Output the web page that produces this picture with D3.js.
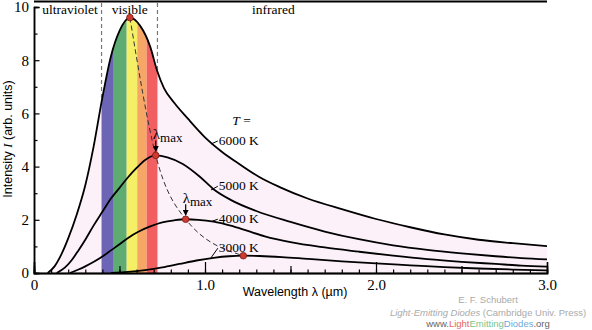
<!DOCTYPE html>
<html>
<head>
<meta charset="utf-8">
<script src="https://cdn.jsdelivr.net/npm/d3@7"></script>
<style>
  body { margin: 0; background: #fff; }
  svg { display: block; }
</style>
</head>
<body>
<div id="chart"></div>
<script>
var width = 592, height = 330;

// blackbody curves, wavelength in um, intensity in arb. units
var wl6000 = [0.08, 0.12, 0.16, 0.2, 0.25, 0.3, 0.35, 0.4, 0.45, 0.5, 0.561, 0.62, 0.68, 0.72, 0.76, 0.82, 0.9, 1.0, 1.1, 1.2, 1.32, 1.44, 1.6, 1.8, 2.0, 2.2, 2.4, 2.6, 2.8, 3.0];
var in6000 = [0, 0.25, 0.7, 1.3, 2.2, 3.3, 4.8, 6.6, 8.15, 9.1, 9.6, 9.3, 8.5, 7.6, 6.95, 6.4, 5.8, 5.1, 4.55, 4.1, 3.6, 3.22, 2.8, 2.4, 2.03, 1.72, 1.45, 1.25, 1.12, 1.01];
var wl5000 = [0.133, 0.18, 0.22, 0.26, 0.3, 0.35, 0.4, 0.45, 0.5, 0.55, 0.6, 0.65, 0.712, 0.78, 0.87, 0.97, 1.05, 1.15, 1.3, 1.5, 1.7, 1.9, 2.1, 2.3, 2.5, 2.7, 2.85, 3.0];
var in5000 = [0, 0.2, 0.48, 0.85, 1.25, 1.8, 2.3, 2.8, 3.2, 3.6, 3.95, 4.25, 4.42, 4.35, 4.1, 3.62, 3.15, 2.75, 2.33, 1.92, 1.56, 1.27, 1.04, 0.87, 0.74, 0.63, 0.56, 0.51];
var wl4000 = [0.21, 0.26, 0.3, 0.35, 0.4, 0.45, 0.5, 0.55, 0.61, 0.68, 0.75, 0.82, 0.887, 0.96, 1.05, 1.15, 1.25, 1.35, 1.5, 1.7, 1.9, 2.1, 2.3, 2.5, 2.7, 2.85, 3.0];
var in4000 = [0, 0.13, 0.25, 0.42, 0.62, 0.85, 1.08, 1.32, 1.55, 1.75, 1.9, 1.98, 2.02, 2.0, 1.93, 1.78, 1.58, 1.38, 1.16, 0.96, 0.8, 0.65, 0.52, 0.42, 0.34, 0.28, 0.24];
var wl3000 = [0.45, 0.55, 0.65, 0.75, 0.85, 0.95, 1.05, 1.14, 1.224, 1.32, 1.45, 1.6, 1.8, 2.0, 2.2, 2.4, 2.6, 2.8, 3.0];
var in3000 = [0, 0.04, 0.11, 0.21, 0.34, 0.47, 0.57, 0.63, 0.65, 0.64, 0.6, 0.53, 0.44, 0.36, 0.29, 0.22, 0.17, 0.13, 0.1];

var temps = ["6000 K", "5000 K", "4000 K", "3000 K"];
var labelI = [5.0, 3.3, 2.06, 0.97];     // where each T label sits
var leaderI = [4.85, 3.12, 1.93, 0.57];  // curve height at the leader

// visible band split into colours
var bandEdges = [0.395, 0.462, 0.542, 0.604, 0.659, 0.722];
var bandColors = ["#6c64b4", "#5fac72", "#f4ef66", "#f6a665", "#f25f60"];
var regions = ["ultraviolet", "visible", "infrared"];
var regionX = [0.21, 0.56, 1.4];

var xMajor = [0, 1, 2, 3];
var xMajorLabels = ["0", "1.0", "2.0", "3.0"];
var xHalf = [0.5, 1.5, 2.5];
var yMajor = [0, 2, 4, 6, 8, 10];
var yMinor = [1, 3, 5, 7, 9];

var serif = "'Liberation Serif', 'Times New Roman', serif";
var sans = "'Liberation Sans', Arial, sans-serif";

var series = [[wl6000, in6000], [wl5000, in5000], [wl4000, in4000], [wl3000, in3000]].map(function(s, i) {
  return { name: temps[i], pts: s[0].map(function(w, j) { return [w, s[1][j]]; }) };
});

var x = d3.scaleLinear().domain([0, 3]).range([34, 547]);
var y = d3.scaleLinear().domain([0, 10]).range([273, 7]);

var svg = d3.select("#chart").append("svg")
  .attr("width", width)
  .attr("height", height);

var line = d3.line()
  .x(function(d) { return x(d[0]); })
  .y(function(d) { return y(d[1]); })
  .curve(d3.curveMonotoneX);

var area = d3.area()
  .x(function(d) { return x(d[0]); })
  .y0(y(0))
  .y1(function(d) { return y(d[1]); })
  .curve(d3.curveMonotoneX);

// region dividers, hidden below the curve by the fill
svg.selectAll(".divider")
  .data([bandEdges[0], bandEdges[bandEdges.length - 1]])
  .enter().append("line")
  .attr("x1", function(d) { return x(d); })
  .attr("x2", function(d) { return x(d); })
  .attr("y1", 3).attr("y2", y(0))
  .attr("stroke", "#777")
  .attr("stroke-width", 1.2)
  .attr("stroke-dasharray", "4,3");

svg.append("clipPath").attr("id", "under6000")
  .append("path").attr("d", area(series[0].pts));

svg.append("path")
  .attr("d", area(series[0].pts))
  .attr("fill", "#fcf0f9");

svg.append("g").attr("clip-path", "url(#under6000)")
  .selectAll("rect")
  .data(bandColors)
  .enter().append("rect")
  .attr("x", function(d, i) { return x(bandEdges[i]); })
  .attr("width", function(d, i) { return x(bandEdges[i + 1]) - x(bandEdges[i]); })
  .attr("y", y(10))
  .attr("height", y(0) - y(10))
  .attr("fill", function(d) { return d; });

// axes with inward ticks
var gx = svg.append("g").attr("transform", "translate(0," + y(0) + ")");
gx.append("g").call(d3.axisBottom(x).tickValues(d3.range(0, 31).map(function(d) { return d / 10; })).tickSize(-3.5).tickFormat(""));
gx.append("g").call(d3.axisBottom(x).tickValues(xHalf).tickSize(-7).tickFormat(""));
gx.append("g").call(d3.axisBottom(x).tickValues(xMajor).tickSize(-11).tickPadding(6)
  .tickFormat(function(d, i) { return xMajorLabels[i]; }));

var gy = svg.append("g").attr("transform", "translate(" + x(0) + ",0)");
gy.append("g").call(d3.axisLeft(y).tickValues(yMinor).tickSize(-3.5).tickFormat(""));
gy.append("g").call(d3.axisLeft(y).tickValues(yMajor).tickSize(-5.5).tickPadding(5));

svg.selectAll(".domain").attr("stroke", "#000").attr("stroke-width", 1.5);
svg.selectAll(".tick line").attr("stroke", "#000").attr("stroke-width", 1.2);
svg.selectAll(".tick text")
  .style("font-family", serif).style("font-size", "15px").attr("fill", "#000");

// top frame line
svg.append("line")
  .attr("x1", x(0)).attr("x2", x(3))
  .attr("y1", 1.5).attr("y2", 1.5)
  .attr("stroke", "#000").attr("stroke-width", 2);

svg.selectAll(".region")
  .data(regions)
  .enter().append("text")
  .attr("x", function(d, i) { return x(regionX[i]); })
  .attr("y", 14)
  .attr("text-anchor", "middle")
  .style("font-family", serif)
  .style("font-size", "13.5px")
  .text(function(d) { return d; });

// Wien locus through the maxima
var peaks = series.map(function(s) { return d3.greatest(s.pts, function(p) { return p[1]; }); });
peaks.sort(function(a, b) { return a[0] - b[0]; });

svg.append("path")
  .attr("d", line(peaks))
  .attr("fill", "none")
  .attr("stroke", "#333")
  .attr("stroke-width", 1)
  .attr("stroke-dasharray", "5,3");

svg.selectAll(".curve")
  .data(series)
  .enter().append("path")
  .attr("d", function(d) { return line(d.pts); })
  .attr("fill", "none")
  .attr("stroke", "#000")
  .attr("stroke-width", 1.8);

// temperature labels
svg.append("text")
  .attr("x", x(1.16)).attr("y", y(5.55))
  .style("font-family", serif).style("font-size", "13.5px")
  .call(function(t) {
    t.append("tspan").attr("font-style", "italic").text("T");
    t.append("tspan").text(" =");
  });

svg.selectAll(".tlabel")
  .data(temps)
  .enter().append("text")
  .attr("x", x(1.08))
  .attr("y", function(d, i) { return y(labelI[i]) + 5; })
  .style("font-family", serif).style("font-size", "13.5px")
  .text(function(d) { return d; });

svg.selectAll(".leader")
  .data(temps)
  .enter().append("line")
  .attr("x1", x(1.035))
  .attr("y1", function(d, i) { return y(leaderI[i]); })
  .attr("x2", x(1.075))
  .attr("y2", function(d, i) { return y(labelI[i]) + 1; })
  .attr("stroke", "#000").attr("stroke-width", 1);

// lambda_max markers on the 5000 K and 4000 K curves
svg.append("defs").append("marker")
  .attr("id", "arrow")
  .attr("viewBox", "0 0 10 10")
  .attr("refX", 9).attr("refY", 5)
  .attr("markerWidth", 5).attr("markerHeight", 5)
  .attr("orient", "auto")
  .append("path").attr("d", "M0,0L10,5L0,10z").attr("fill", "#000");

[peaks[1], peaks[2]].forEach(function(p) {
  var px = x(p[0]), py = y(p[1]);
  svg.append("line")
    .attr("x1", px).attr("x2", px)
    .attr("y1", py - 15).attr("y2", py - 4)
    .attr("stroke", "#000").attr("stroke-width", 1.2)
    .attr("marker-end", "url(#arrow)");
  var t = svg.append("text")
    .attr("x", px - 3).attr("y", py - 16)
    .style("font-family", serif).style("font-size", "15px");
  t.append("tspan").text("λ");
  t.append("tspan").style("font-size", "13px").attr("dy", 3).text("max");
});

svg.selectAll(".peak")
  .data(peaks)
  .enter().append("circle")
  .attr("cx", function(d) { return x(d[0]); })
  .attr("cy", function(d) { return y(d[1]); })
  .attr("r", 3.3)
  .attr("fill", "#cc3a30")
  .attr("stroke", "#7a1a14")
  .attr("stroke-width", 0.8);

// axis titles
svg.append("text")
  .attr("x", 295).attr("y", 296)
  .attr("text-anchor", "middle")
  .style("font-family", sans).style("font-size", "12.5px")
  .text("Wavelength  λ  (µm)");

svg.append("text")
  .attr("transform", "translate(12,139) rotate(-90)")
  .attr("text-anchor", "middle")
  .style("font-family", sans).style("font-size", "12.5px")
  .call(function(t) {
    t.append("tspan").text("Intensity  ");
    t.append("tspan").style("font-family", serif).attr("font-style", "italic").text("I");
    t.append("tspan").text("  (arb. units)");
  });

// credit lines
var credit = svg.append("g")
  .style("font-family", sans).style("font-size", "9.5px")
  .attr("text-anchor", "middle");
credit.append("text").attr("x", 488).attr("y", 303).attr("fill", "#aaa").text("E. F. Schubert");
credit.append("text").attr("x", 488).attr("y", 316).attr("fill", "#aaa")
  .call(function(t) {
    t.append("tspan").attr("font-style", "italic").text("Light-Emitting Diodes");
    t.append("tspan").text(" (Cambridge Univ. Press)");
  });
credit.append("text").attr("x", 488).attr("y", 327)
  .call(function(t) {
    t.append("tspan").attr("fill", "#666").text("www.");
    t.append("tspan").attr("fill", "#e8655a").text("Light");
    t.append("tspan").attr("fill", "#78c48a").text("Emitting");
    t.append("tspan").attr("fill", "#6fa8d8").text("Diodes");
    t.append("tspan").attr("fill", "#666").text(".org");
  });
</script>
</body>
</html>
